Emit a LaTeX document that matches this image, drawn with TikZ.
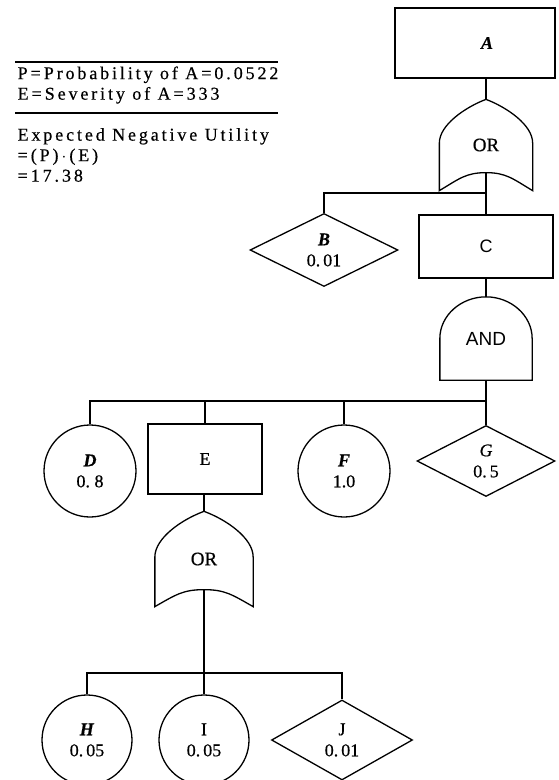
\documentclass[tikz,border=0pt]{standalone}
\usepackage{fontspec}
\setmainfont{Liberation Serif}[FakeBold=0.5]
\newfontfamily\spaced{Liberation Serif}[LetterSpace=16,FakeBold=0.5]
\newfontfamily\gatesans{Liberation Sans}
\usetikzlibrary{shapes.geometric,calc}

\begin{document}
\begin{tikzpicture}[x=1pt,y=-1pt,line width=1.3pt,
  every node/.style={font=\fontsize{18}{21}\selectfont,align=center,inner sep=0pt},
  eventbox/.style={draw,rectangle},
  basicev/.style={draw,circle,minimum size=92pt},
  undevev/.style={draw,diamond,aspect=2},
  gatebox/.style={rectangle,font=\fontsize{19}{21}\selectfont},
  note/.style={anchor=west,align=left,font=\fontsize{18}{20.5}\selectfont\spaced},
]
\useasboundingbox (0,0) rectangle (559,780);

% ---- summary of the top event ----
\draw (15,62) -- (278,62);
\node[note] (given) at (17,85) {P\,=\,Probability of A\,=\,0.\,0522\\E\,=\,Severity of A\,=\,333};
\draw (15,113) -- (278,113);
\node[note] (eu) at (17,155) {Expected Negative Utility\\=\,(P)\,$\cdot$\,(E)\\=\,17.\,38};

% ---- top event and first OR gate ----
\node[eventbox,minimum width=160pt,minimum height=70pt] (A) at (475,43)
  {\hspace*{24pt}\textbf{\textit{A}}};
\node[gatebox,minimum width=92pt,minimum height=90pt] (or1) at (486,145) {OR};
\coordinate (or1in) at ($(or1.south)+(0,-18)$);
\draw (or1.south west) -- ($(or1.west)+(0,-2)$)
  .. controls +(0,-18) and +(-21,8) .. (or1.north)
  .. controls +(21,8) and +(0,-18) .. ($(or1.east)+(0,-2)$)
  -- (or1.south east)
  .. controls +(-20,-12) and +(20,0) .. (or1in)
  .. controls +(-20,0) and +(20,-12) .. (or1.south west) -- cycle;
\draw (A.south -| or1.north) -- (or1.north);

% ---- B and C ----
\node[undevev,minimum width=148pt,minimum height=73pt] (B) at (324,250)
  {\textbf{\textit{B}}\\0.\,01};
\node[eventbox,minimum width=134pt,minimum height=63pt] (C) at (486,246.5)
  {\gatesans C};
\coordinate (bus1) at (486,193);
\draw (or1in) -- (C.north);
\draw (bus1) -| (B.north);

% ---- AND gate under C ----
\node[gatebox,minimum width=91pt,minimum height=82pt] (and) at (486,338.5)
  {\raisebox{-5pt}{\gatesans AND}};
\draw (and.south west) -- (and.west)
  .. controls +(0,-23) and +(-25,0) .. (and.north)
  .. controls +(25,0) and +(0,-23) .. (and.east)
  -- (and.south east) -- cycle;
\draw (C.south) -- (and.north);

% ---- D, E, F, G ----
\node[basicev] (D) at (90,471) {\textbf{\textit{D}}\\0.\ 8};
\node[eventbox,minimum width=114pt,minimum height=70pt] (E) at (205,459) {E};
\node[basicev] (F) at (344,471) {\textbf{\textit{F}}\\1.0};
\node[undevev,minimum width=138pt,minimum height=71pt] (G) at (486,461)
  {\textit{G}\\0.\,5};
\coordinate (bus2) at (486,401);
\draw (and.south) -- (G.north);
\draw (bus2) -| (D.north);
\draw (bus2) -| (E.north);
\draw (bus2) -| (F.north);

% ---- OR gate under E ----
\node[gatebox,minimum width=97pt,minimum height=94pt] (or2) at (204,559) {OR};
\coordinate (or2in) at ($(or2.south)+(0,-17)$);
\draw (or2.south west) -- ($(or2.west)+(0,-2)$)
  .. controls +(0,-19) and +(-22,8) .. (or2.north)
  .. controls +(22,8) and +(0,-19) .. ($(or2.east)+(0,-2)$)
  -- (or2.south east)
  .. controls +(-21,-12) and +(21,0) .. (or2in)
  .. controls +(-21,0) and +(21,-12) .. (or2.south west) -- cycle;
\draw (E.south -| or2.north) -- (or2.north);

% ---- H, I, J ----
\node[basicev,minimum size=90pt] (H) at (87,740) {\textbf{\textit{H}}\\0.\,05};
\node[basicev,minimum size=90pt] (I) at (204,740) {I\\0.\,05};
\node[undevev,minimum width=141pt,minimum height=80pt] (J) at (342,740) {J\\0.\,01};
\coordinate (bus3) at (204,673);
\draw (or2in) -- (I.north);
\draw (bus3) -| (H.north);
\draw (bus3) -| (J.north);
\end{tikzpicture}
\end{document}
